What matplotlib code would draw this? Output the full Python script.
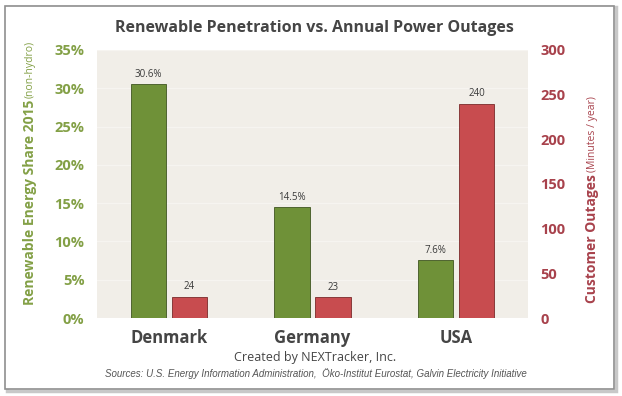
import matplotlib
matplotlib.use("Agg")
import matplotlib.pyplot as plt
from matplotlib.patches import Rectangle
import numpy as np

countries = ["Denmark", "Germany", "USA"]
renewable_share = [30.6, 14.5, 7.6]        # % (non-hydro), 2015
outage_minutes = [24, 23, 240]             # minutes / year
left_ticks = [0, 5, 10, 15, 20, 25, 30, 35]
right_ticks = [0, 50, 100, 150, 200, 250, 300]

GREEN = "#6f9138"
RED = "#c84c4f"
GREEN_TXT = "#83a046"
RED_TXT = "#a8424c"
DARK = "#454545"
BG = "#f1eee8"
FONT = "Open Sans"

W, H = 622, 396
fig = plt.figure(figsize=(W / 100, H / 100), dpi=100)
fig.patch.set_facecolor("white")

def fx(px):
    return px / W

def fy(py):
    return 1 - py / H

# outer frame
fig.add_artist(Rectangle((fx(7), fy(391)), fx(609), 384 / H, transform=fig.transFigure,
                         facecolor="none", edgecolor="#c8c8c8", lw=2.5, zorder=0))
fig.add_artist(Rectangle((fx(5), fy(389)), fx(609), 383 / H, transform=fig.transFigure,
                         facecolor="white", edgecolor="#8f8f8f", lw=1.2, zorder=0))

ax = fig.add_axes([fx(97), fy(318), fx(528 - 97), (318 - 50) / H])
ax.set_facecolor(BG)
ax2 = ax.twinx()

x = np.arange(len(countries))
bw = 0.245
off = 0.143
gb = ax.bar(x - off, renewable_share, bw, color=GREEN, edgecolor="#3f5520", lw=0.6, zorder=3)
rb = ax2.bar(x + off, outage_minutes, bw, color=RED, edgecolor="#7a2a2a", lw=0.6, zorder=3)

ax.set_xlim(-0.5, 2.5)
ax.set_ylim(0, 35)
ax2.set_ylim(0, 300)
ax.set_yticks(left_ticks)
ax.set_yticklabels([f"{t}%" for t in left_ticks])
ax2.set_yticks(right_ticks)
ax2.set_yticklabels([str(t) for t in right_ticks])
ax.set_xticks(x)
ax.set_xticklabels(countries)

for a in (ax, ax2):
    for s in a.spines.values():
        s.set_visible(False)
ax.grid(axis="y", color="#f6f4f0", lw=0.9, zorder=0)
ax.set_axisbelow(True)

ax.tick_params(axis="y", length=0, pad=9, labelsize=10.5, labelcolor=GREEN_TXT)
ax2.tick_params(axis="y", length=0, pad=9, labelsize=10.5, labelcolor=RED_TXT)
ax.tick_params(axis="x", length=0, pad=8, labelsize=12, labelcolor=DARK)
for lab in ax.get_yticklabels():
    lab.set_fontfamily(FONT); lab.set_fontweight("bold")
for lab in ax2.get_yticklabels():
    lab.set_fontfamily(FONT); lab.set_fontweight("bold")
for lab in ax.get_xticklabels():
    lab.set_fontfamily(FONT); lab.set_fontweight("bold")

for b, v in zip(gb, renewable_share):
    ax.annotate(f"{v}%", (b.get_x() + b.get_width() / 2, v), xytext=(0, 3),
                textcoords="offset points", ha="center", va="bottom",
                fontsize=7, color="#3a3a3a", family=FONT)
for b, v in zip(rb, outage_minutes):
    ax2.annotate(f"{v}", (b.get_x() + b.get_width() / 2, v), xytext=(0, 3),
                 textcoords="offset points", ha="center", va="bottom",
                 fontsize=7, color="#3a3a3a", family=FONT)

fig.text(fx(314), fy(28), "Renewable Penetration vs. Annual Power Outages",
         ha="center", va="center", fontsize=11.5, fontweight="bold", color=DARK, family=FONT)
fig.text(fx(315), fy(357), "Created by NEXTracker, Inc.", ha="center", va="center",
         fontsize=9, color=DARK, family=FONT)
fig.text(fx(316), fy(374),
         "Sources: U.S. Energy Information Administration,  Öko-Institut Eurostat, Galvin Electricity Initiative",
         ha="center", va="center", fontsize=7, style="italic", color="#555555",
         family=["Liberation Sans Narrow", "Liberation Sans", "DejaVu Sans"], stretch="condensed")

# two-part rotated axis labels
fig.canvas.draw()
renderer = fig.canvas.get_renderer()

def two_part(xpx, ybottom_px, main, extra, color, main_size, extra_size):
    t1 = fig.text(fx(xpx), fy(ybottom_px), main, rotation=90, ha="center", va="bottom",
                  fontsize=main_size, fontweight="bold", color=color, family=FONT)
    bb = t1.get_window_extent(renderer)
    top = bb.y1 / fig.dpi / fig.get_figheight()
    fig.text(fx(xpx), top + 2 / H, extra, rotation=90, ha="center", va="bottom",
             fontsize=extra_size, color=color, family=FONT)

two_part(30, 305, "Renewable Energy Share 2015", "(non-hydro)", GREEN_TXT, 10, 7.5)
two_part(592, 303, "Customer Outages", "(Minutes / year)", RED_TXT, 10, 7.5)

fig.savefig("out.png", dpi=100)
